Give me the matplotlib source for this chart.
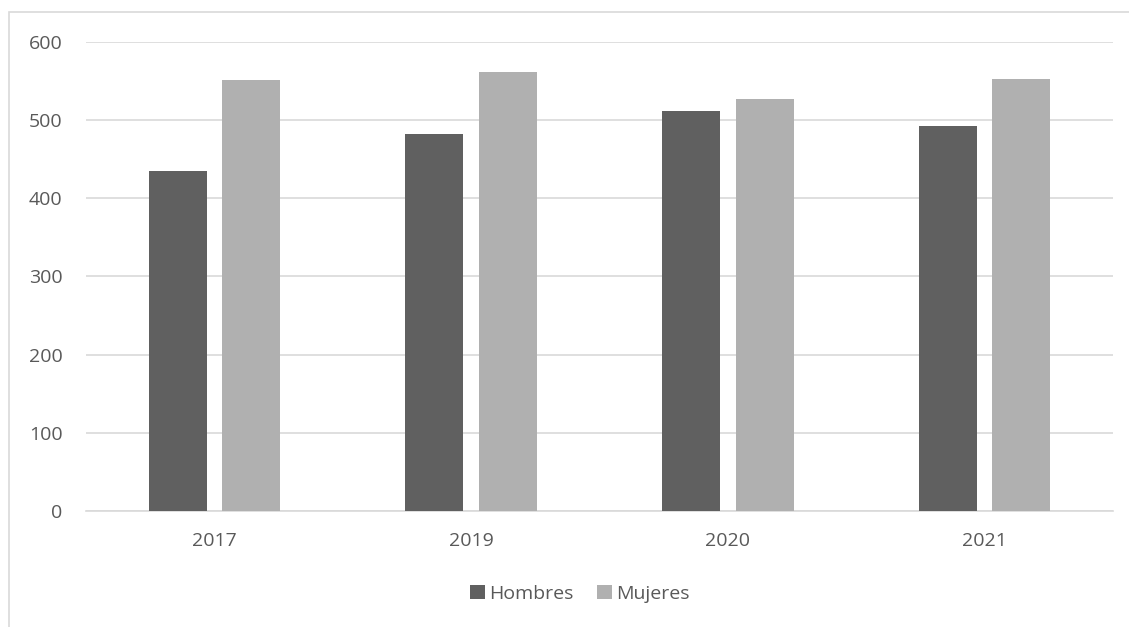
import matplotlib
matplotlib.use("Agg")
import matplotlib.pyplot as plt
import numpy as np
from matplotlib.patches import Rectangle

categories = ["2017", "2019", "2020", "2021"]
hombres = [435, 482, 512, 492]
mujeres = [552, 561, 527, 553]
yticks = [0, 100, 200, 300, 400, 500, 600]

plt.rcParams['font.family'] = ['Open Sans', 'DejaVu Sans']
txt = '#595959'

fig = plt.figure(figsize=(11.29, 6.27), dpi=100)
# chart border (partially outside)
fig.patches.append(Rectangle((9/1129, -0.1), 1.2, 1 - 12/627 + 0.1, transform=fig.transFigure,
                             fill=False, edgecolor='#d9d9d9', linewidth=1.2))
ax = fig.add_axes([86/1129, 1 - 511/627, (1113 - 86)/1129, (511 - 42)/627])

x = np.arange(len(categories))
w = 0.226
off = 0.143
ax.bar(x - off, hombres, w, color='#606060', label='Hombres', zorder=3)
ax.bar(x + off, mujeres, w, color='#b0b0b0', label='Mujeres', zorder=3)

ax.set_xlim(-0.5, len(categories) - 0.5)
ax.set_ylim(0, 600)
ax.set_yticks(yticks)
ax.set_xticks(x)
ax.set_xticklabels(categories)
ax.yaxis.grid(True, color='#d9d9d9', linewidth=1.2, zorder=0)
ax.set_axisbelow(True)
for s in ['top', 'right', 'left']:
    ax.spines[s].set_visible(False)
ax.spines['bottom'].set_color('#d9d9d9')
ax.spines['bottom'].set_linewidth(1.2)
ax.tick_params(axis='both', length=0, labelsize=14, colors=txt)
ax.tick_params(axis='y', pad=17)
ax.tick_params(axis='x', pad=15)

leg = fig.legend(loc='center', bbox_to_anchor=(580/1129, 1 - 594/627), ncol=2, frameon=False,
                 fontsize=14, handlelength=0.75, handleheight=0.75, handletextpad=0.25,
                 columnspacing=1.2)
for t in leg.get_texts():
    t.set_color(txt)

fig.savefig('out.png', dpi=100)
